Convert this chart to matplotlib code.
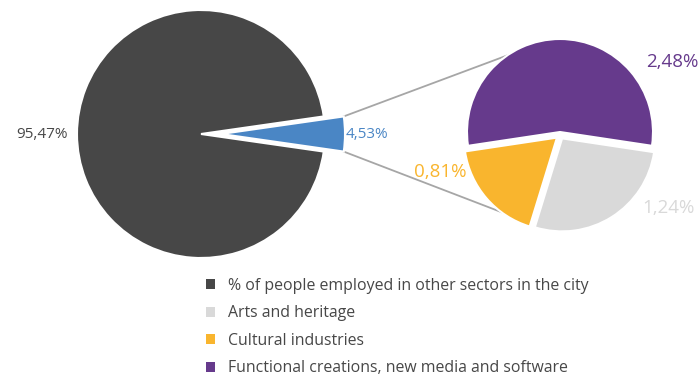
import numpy as np
import matplotlib
matplotlib.use('Agg')
import matplotlib.pyplot as plt

plt.rcParams['font.family'] = ['Open Sans', 'DejaVu Sans']

# main split: other sectors vs cultural/creative sectors (%)
main_labels = ['Cultural and creative sectors', '% of people employed in other sectors in the city']
main_values = [4.53, 95.47]

# breakdown of the cultural/creative share (%)
sub_labels = ['Functional creations, new media and software', 'Arts and heritage', 'Cultural industries']
sub_values = [2.48, 1.24, 0.81]

dark = '#474747'
blue = '#4a86c5'
purple = '#663a8c'
grey = '#d9d9d9'
yellow = '#f9b52e'

fig = plt.figure(figsize=(6.99, 3.77), dpi=100)
ax = fig.add_axes([0, 0, 1, 1])

# big pie, the small slice pulled out to the right (explode is in data units here)
c1, r1 = (201, 243), 124
frac = main_values[0] / sum(main_values)
w1, _ = ax.pie(main_values, colors=[blue, dark], center=c1, radius=r1,
               startangle=-frac * 180, explode=[20, 0],
               wedgeprops=dict(edgecolor='white', linewidth=1.5), frame=True)

# second pie with the breakdown, largest slice centred on top
c2, r2 = (560, 242), 93
sfrac = sub_values[0] / sum(sub_values)
w2, _ = ax.pie(sub_values, colors=[purple, grey, yellow], center=c2, radius=r2,
               startangle=90 + sfrac * 180, counterclock=False,
               explode=[3, 4, 4],
               wedgeprops=dict(edgecolor='white', linewidth=1.5), frame=True)
ax.set_xlim(0, 699)
ax.set_ylim(0, 377)
ax.set_aspect('equal')
ax.axis('off')

# tangent lines from the outer corners of the pulled-out slice to the second pie
b = w1[0]
bc = np.array(b.center)
cc = np.array(c2)
for th, sign in [(b.theta2, -1), (b.theta1, 1)]:
    p = bc + b.r * np.array([np.cos(np.radians(th)), np.sin(np.radians(th))])
    d = p - cc
    phi = np.arctan2(d[1], d[0])
    alpha = np.arccos(r2 / np.hypot(*d))
    t = phi + sign * alpha
    q = cc + r2 * np.array([np.cos(t), np.sin(t)])
    ax.plot([p[0], q[0]], [p[1], q[1]], color='#a6a6a6', lw=1.3, zorder=0)

def pct(v):
    return ('%.2f%%' % v).replace('.', ',')

ax.text(42, 242, pct(main_values[1]), color=dark, fontsize=11, ha='center', va='center')
ax.text(367, 242, pct(main_values[0]), color=blue, fontsize=11, ha='center', va='center')
ax.text(672, 315, pct(sub_values[0]), color=purple, fontsize=13.5, ha='center', va='center')
ax.text(668, 169, pct(sub_values[1]), color=grey, fontsize=13.5, ha='center', va='center')
ax.text(440, 205, pct(sub_values[2]), color=yellow, fontsize=13.5, ha='center', va='center')

handles = [w1[1], w2[1], w2[2], w2[0]]
labels = [main_labels[1], sub_labels[1], sub_labels[2], sub_labels[0]]
leg = fig.legend(handles, labels, loc='upper left', bbox_to_anchor=(206 / 699, 1 - 278 / 377),
                 frameon=False, fontsize=11.4, handlelength=0.6, handleheight=0.6,
                 handletextpad=0.8, labelspacing=0.72, borderaxespad=0, borderpad=0)
for t in leg.get_texts():
    t.set_color(dark)
for h in leg.legend_handles:
    h.set_edgecolor('none')

fig.savefig('out.png', dpi=100)
